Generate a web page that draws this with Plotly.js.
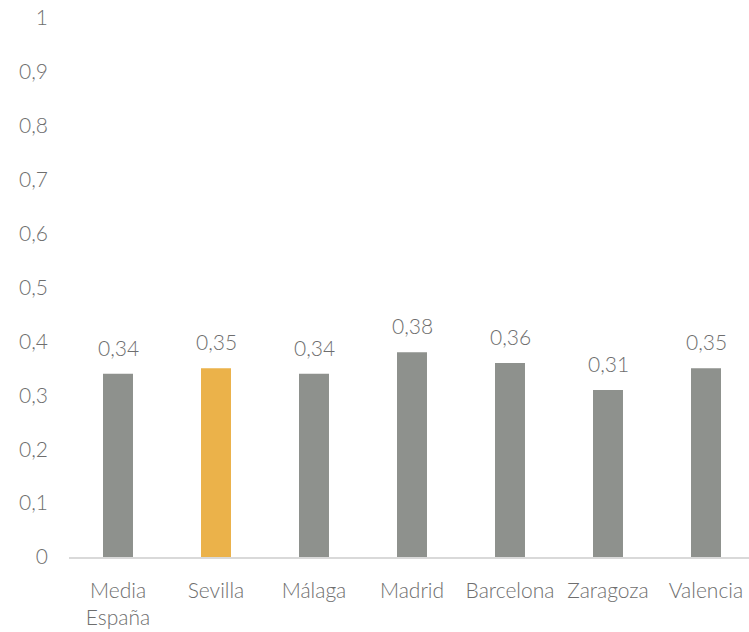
<!DOCTYPE html>
<html>
<head>
<meta charset="utf-8">
<script src="https://cdn.plot.ly/plotly-3.0.1.min.js"></script>
<style>
html,body{margin:0;padding:0;overflow:hidden;background:#fff;}
#chart{width:756px;height:632px;}
</style>
</head>
<body>
<div id="chart"></div>
<script>
const categories = ["Media<br>España", "Sevilla", "Málaga", "Madrid", "Barcelona", "Zaragoza", "Valencia"];
const values = [0.34, 0.35, 0.34, 0.38, 0.36, 0.31, 0.35];
const highlight = "Sevilla";

const grayColor = "#8e918d";
const orangeColor = "#ebb24a";
const textColor = "#6e6e6e";
const fontFamily = "Lato, 'Open Sans', sans-serif";

const colors = categories.map(c => c === highlight ? orangeColor : grayColor);

const trace = {
  type: "bar",
  x: categories,
  y: values,
  marker: {color: colors},
  width: 0.306,
  hoverinfo: "none"
};

const annotations = categories.map((c, i) => ({
  x: c,
  y: values[i],
  xref: "x",
  yref: "y",
  text: values[i].toFixed(2).replace(".", ","),
  showarrow: false,
  yanchor: "bottom",
  yshift: 12,
  font: {family: fontFamily, size: 21, color: textColor, weight: 300}
}));

const layout = {
  width: 756,
  height: 632,
  margin: {l: 69, r: 1, t: 18, b: 75},
  paper_bgcolor: "#ffffff",
  plot_bgcolor: "#ffffff",
  separators: ",.",
  showlegend: false,
  font: {family: fontFamily, size: 21, color: textColor, weight: 300},
  xaxis: {
    type: "category",
    range: [-0.5, 6.5],
    showline: true,
    linecolor: "#d9d9d9",
    linewidth: 1.5,
    showgrid: false,
    zeroline: false,
    ticks: "",
    ticklabelstandoff: 14,
    tickfont: {family: fontFamily, size: 21, color: textColor, weight: 300},
    fixedrange: true
  },
  yaxis: {
    range: [0, 1],
    dtick: 0.1,
    tick0: 0,
    showgrid: false,
    zeroline: false,
    showline: false,
    ticks: "",
    ticklabelstandoff: 20,
    tickfont: {family: fontFamily, size: 21, color: textColor, weight: 300},
    fixedrange: true
  },
  annotations: annotations
};

Plotly.newPlot("chart", [trace], layout, {displayModeBar: false, staticPlot: true});
</script>
</body>
</html>
